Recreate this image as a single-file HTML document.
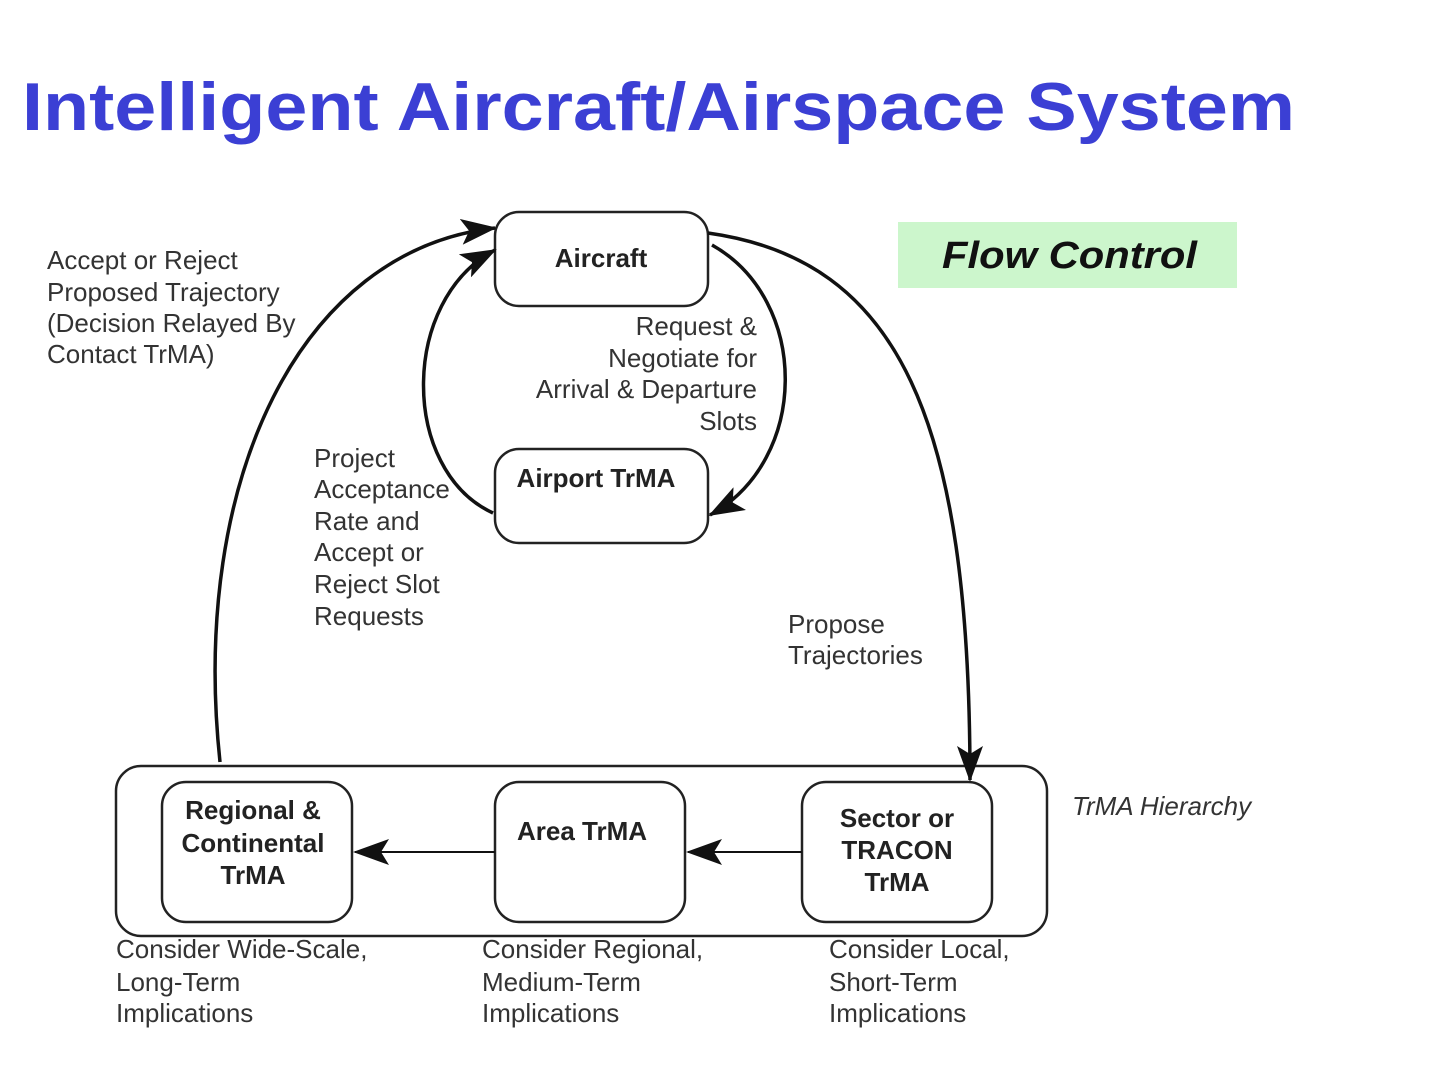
<!DOCTYPE html>
<html><head><meta charset="utf-8"><style>
html,body{margin:0;padding:0;background:#fff;}
svg{display:block;}
text{font-family:"Liberation Sans",sans-serif;}
.l{font-size:26px;fill:#333;}
.b{font-size:26px;font-weight:bold;fill:#222;}
</style></head><body>
<svg width="1440" height="1080" viewBox="0 0 1440 1080" xmlns="http://www.w3.org/2000/svg">
<defs>
<marker id="a2" markerWidth="36" markerHeight="26" refX="34" refY="13" orient="auto" markerUnits="userSpaceOnUse" viewBox="0 0 36 26">
<path d="M0,0 L36,13 L0,26 L8,13 Z" fill="#111"/></marker>
</defs>
<text x="22" y="130" font-size="68" font-weight="bold" fill="#3b3fd4" textLength="1273" lengthAdjust="spacingAndGlyphs">Intelligent Aircraft/Airspace System</text>
<rect x="898" y="222" width="339" height="66" fill="#ccf6cc"/>
<text x="942" y="268" font-size="38" font-weight="bold" font-style="italic" fill="#111" textLength="255" lengthAdjust="spacingAndGlyphs">Flow Control</text>
<g fill="#fff" stroke="#222" stroke-width="2.5">
<rect x="495" y="212" width="213" height="94" rx="24"/>
<rect x="495" y="449" width="213" height="94" rx="24"/>
<rect x="116" y="766" width="931" height="170" rx="25"/>
<rect x="162" y="782" width="190" height="140" rx="24"/>
<rect x="495" y="782" width="190" height="140" rx="24"/>
<rect x="802" y="782" width="190" height="140" rx="24"/>
</g>
<g fill="none" stroke="#111" stroke-width="3.5">
<path d="M220,762 C190,480 300,250 495,228" marker-end="url(#a2)"/>
<path d="M708,233 C900,260 970,420 970,780" marker-end="url(#a2)"/>
<path d="M493,513 C400,470 400,300 495,250" marker-end="url(#a2)"/>
<path d="M712,245 C810,300 810,460 710,515" marker-end="url(#a2)"/>
</g>
<g stroke="#111" stroke-width="2">
<line x1="495" y1="852" x2="355" y2="852" marker-end="url(#a2)"/>
<line x1="802" y1="852" x2="688" y2="852" marker-end="url(#a2)"/>
</g>
<text class="b" x="601" y="267" text-anchor="middle">Aircraft</text>
<text class="b" x="596" y="487" text-anchor="middle">Airport TrMA</text>
<text class="b" x="253" y="819" text-anchor="middle">Regional &amp;</text>
<text class="b" x="253" y="852" text-anchor="middle">Continental</text>
<text class="b" x="253" y="884" text-anchor="middle">TrMA</text>
<text class="b" x="582" y="840" text-anchor="middle">Area TrMA</text>
<text class="b" x="897" y="827" text-anchor="middle">Sector or</text>
<text class="b" x="897" y="859" text-anchor="middle">TRACON</text>
<text class="b" x="897" y="891" text-anchor="middle">TrMA</text>
<g class="l">
<text x="47" y="269">Accept or Reject</text>
<text x="47" y="301">Proposed Trajectory</text>
<text x="47" y="332">(Decision Relayed By</text>
<text x="47" y="363">Contact TrMA)</text>
<text x="757" y="335" text-anchor="end">Request &amp;</text>
<text x="757" y="367" text-anchor="end">Negotiate for</text>
<text x="757" y="398" text-anchor="end">Arrival &amp; Departure</text>
<text x="757" y="430" text-anchor="end">Slots</text>
<text x="314" y="467">Project</text>
<text x="314" y="498">Acceptance</text>
<text x="314" y="530">Rate and</text>
<text x="314" y="561">Accept or</text>
<text x="314" y="593">Reject Slot</text>
<text x="314" y="625">Requests</text>
<text x="788" y="633">Propose</text>
<text x="788" y="664">Trajectories</text>
<text x="1072" y="815" font-style="italic">TrMA Hierarchy</text>
<text x="116" y="958">Consider Wide-Scale,</text>
<text x="116" y="991">Long-Term</text>
<text x="116" y="1022">Implications</text>
<text x="482" y="958">Consider Regional,</text>
<text x="482" y="991">Medium-Term</text>
<text x="482" y="1022">Implications</text>
<text x="829" y="958">Consider Local,</text>
<text x="829" y="991">Short-Term</text>
<text x="829" y="1022">Implications</text>
</g>
</svg>
</body></html>
